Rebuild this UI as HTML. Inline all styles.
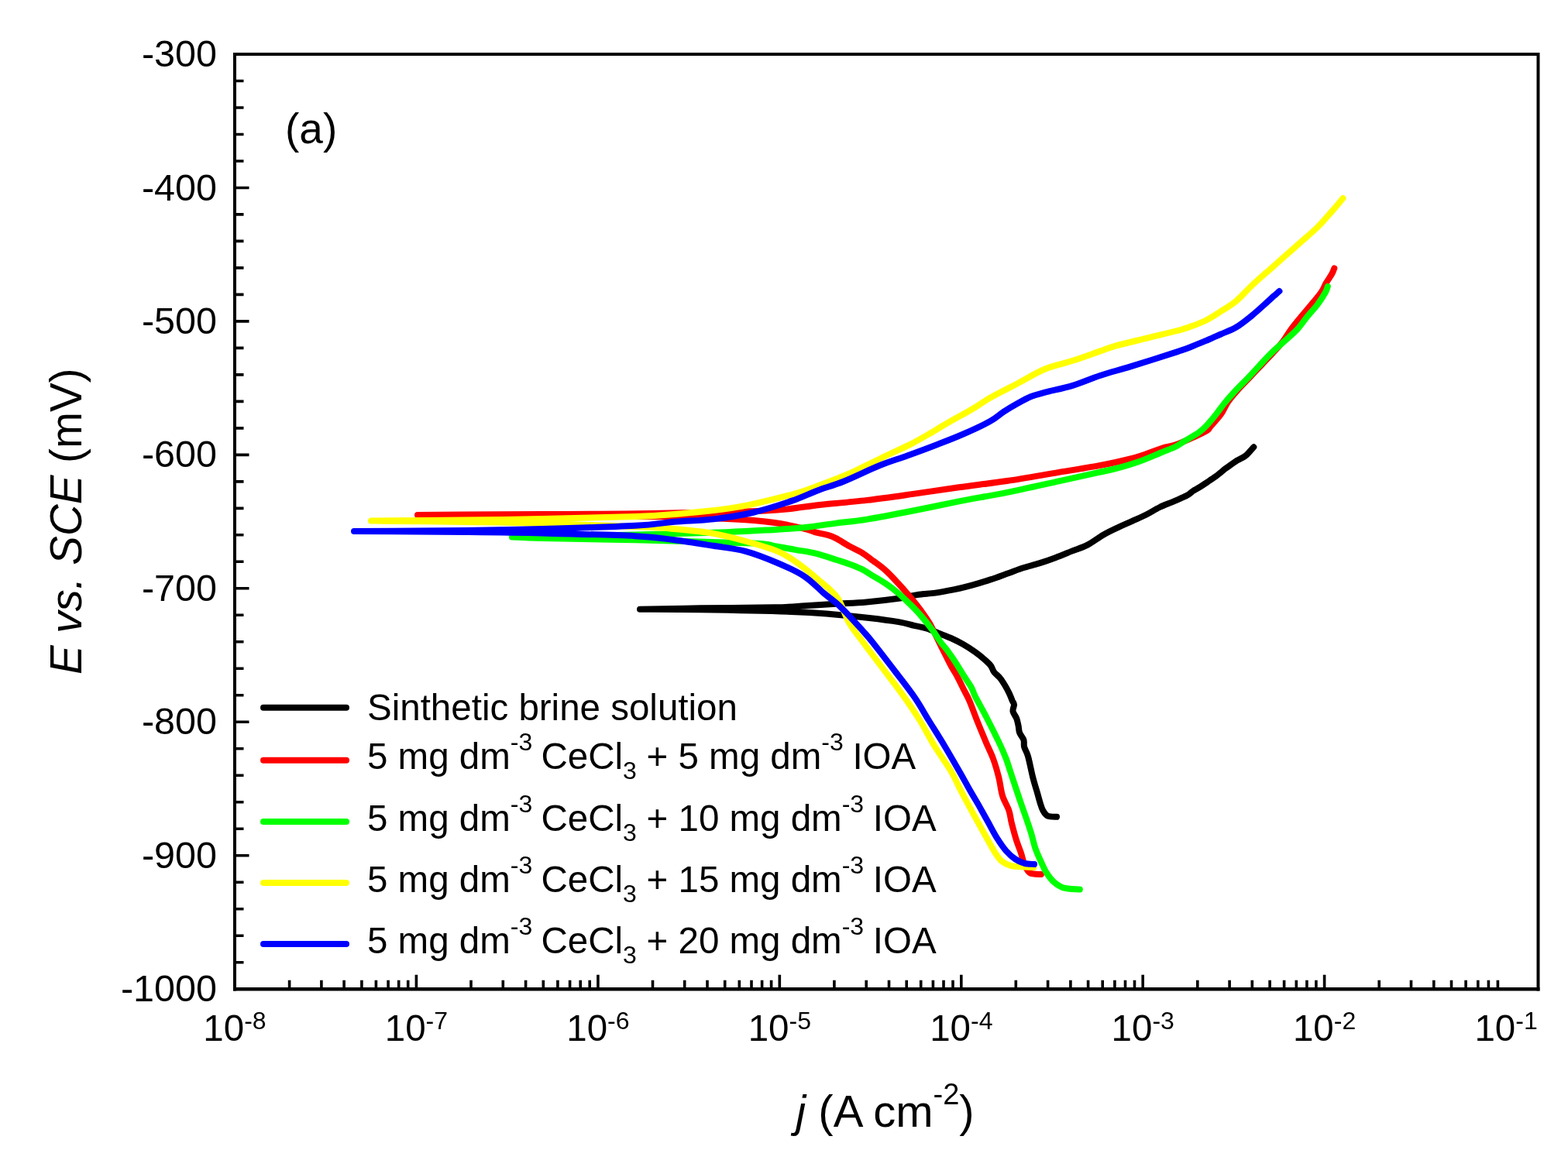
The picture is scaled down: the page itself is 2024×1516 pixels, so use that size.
<!DOCTYPE html><html><head><meta charset="utf-8"><style>html,body{margin:0;padding:0;background:#fff;overflow:hidden}svg{display:block}text{font-family:'Liberation Sans',Arial,sans-serif;fill:#000}</style></head><body>
<svg width="2024" height="1516" viewBox="0 0 2024 1516">
<rect width="2024" height="1516" fill="#fff"/>
<g fill="none" stroke-width="8" stroke-linejoin="round" stroke-linecap="round">
<path stroke="#000" d="M1364.0 1054.8C1362.0 1054.6 1355.2 1055.0 1352.2 1053.6C1349.2 1052.2 1347.8 1049.3 1346.2 1046.5C1344.6 1043.7 1343.9 1040.8 1342.7 1037.0C1341.5 1033.2 1340.6 1029.5 1339.0 1023.9C1337.4 1018.4 1335.2 1011.6 1333.2 1003.7C1331.2 995.8 1328.8 982.9 1326.9 976.4C1325.1 969.9 1323.0 968.1 1322.1 964.6C1321.2 961.1 1322.4 958.5 1321.4 955.4C1320.4 952.3 1317.2 949.3 1316.1 946.2C1314.9 943.1 1315.2 940.0 1314.5 936.9C1313.8 933.8 1313.4 930.8 1312.2 927.7C1311.0 924.6 1308.0 921.5 1307.5 918.5C1307.0 915.5 1309.1 912.3 1309.0 910.0C1308.9 907.7 1307.8 907.2 1306.7 904.8C1305.7 902.3 1304.3 898.6 1302.7 895.3C1301.1 892.0 1299.2 888.3 1297.2 885.0C1295.2 881.7 1293.2 878.4 1290.8 875.5C1288.4 872.6 1285.0 870.2 1283.0 867.6C1281.0 865.0 1281.0 862.3 1279.0 859.7C1277.0 857.1 1274.3 854.7 1271.0 851.8C1267.7 848.9 1263.8 845.6 1259.2 842.3C1254.6 839.0 1248.6 835.0 1243.3 832.0C1238.0 829.0 1232.8 826.4 1227.5 824.0C1222.2 821.6 1217.0 819.8 1211.7 817.7C1206.4 815.6 1201.1 813.0 1195.8 811.4C1190.5 809.8 1186.0 809.2 1180.0 807.8C1174.0 806.4 1169.7 804.7 1160.0 803.1C1150.3 801.5 1136.7 799.7 1122.0 798.0C1107.3 796.3 1088.8 794.4 1072.0 793.0C1055.2 791.6 1049.0 790.9 1021.0 789.9C993.0 788.9 936.5 787.8 904.0 787.3C871.5 786.8 839.0 786.9 826.0 786.8C839.0 786.5 875.0 785.7 904.0 785.3C933.0 784.9 977.4 784.8 1000.0 784.3C1022.6 783.8 1026.3 783.0 1039.5 782.2C1052.7 781.4 1065.8 780.5 1079.0 779.7C1092.2 778.9 1105.1 778.6 1118.6 777.4C1132.1 776.2 1149.2 774.2 1160.0 772.7C1170.8 771.2 1175.8 769.3 1183.7 768.1C1191.6 766.9 1199.5 766.7 1207.4 765.6C1215.3 764.5 1223.1 763.0 1231.0 761.4C1238.9 759.8 1247.0 757.9 1254.9 755.7C1262.8 753.5 1270.7 751.0 1278.6 748.4C1286.5 745.8 1295.3 742.4 1302.3 739.9C1309.3 737.4 1314.3 735.4 1320.8 733.3C1327.3 731.2 1334.6 729.6 1341.5 727.4C1348.4 725.2 1355.4 722.8 1362.3 720.2C1369.2 717.6 1376.1 714.7 1383.0 711.9C1389.9 709.1 1396.9 707.2 1403.8 703.6C1410.7 700.0 1417.8 694.2 1424.5 690.4C1431.2 686.6 1437.5 683.7 1443.7 680.8C1449.9 677.9 1455.6 675.6 1461.5 672.9C1467.4 670.2 1473.4 667.8 1479.3 664.8C1485.2 661.8 1491.1 657.9 1497.0 655.0C1502.9 652.1 1508.9 650.2 1514.8 647.6C1520.7 645.0 1528.4 641.9 1532.6 639.6C1536.8 637.3 1537.4 635.7 1540.0 634.0C1542.6 632.3 1545.3 631.2 1548.4 629.2C1551.5 627.2 1555.3 624.6 1558.8 622.3C1562.3 620.0 1566.3 617.4 1569.2 615.3C1572.1 613.2 1573.8 611.6 1576.1 609.8C1578.4 608.0 1579.5 606.8 1583.0 604.3C1586.5 601.8 1592.8 597.1 1596.8 594.6C1600.8 592.1 1604.3 591.1 1607.2 589.0C1610.1 586.9 1612.2 584.1 1614.1 582.1C1615.9 580.1 1617.6 578.1 1618.3 577.3"/>
<path stroke="#f00" d="M1343.9 1129.0C1341.5 1128.7 1333.2 1129.4 1329.6 1127.3C1326.0 1125.2 1324.5 1121.0 1322.5 1116.6C1320.5 1112.2 1319.6 1106.4 1317.8 1101.1C1316.0 1095.8 1313.8 1090.8 1311.8 1084.5C1309.8 1078.2 1307.5 1069.4 1305.9 1063.1C1304.3 1056.8 1304.3 1052.4 1302.3 1046.5C1300.3 1040.6 1296.2 1034.6 1294.0 1027.5C1291.8 1020.4 1291.2 1011.6 1289.2 1003.7C1287.2 995.8 1284.8 987.4 1282.1 980.0C1279.4 972.6 1276.7 967.8 1273.2 959.6C1269.8 951.4 1265.1 940.1 1261.4 931.0C1257.8 921.9 1254.3 911.8 1251.3 904.8C1248.3 897.8 1245.9 894.3 1243.3 889.0C1240.7 883.7 1238.0 878.0 1235.4 873.1C1232.8 868.2 1231.0 866.3 1227.5 859.7C1224.0 853.1 1218.9 842.6 1214.4 833.6C1209.9 824.6 1204.4 812.8 1200.3 805.5C1196.2 798.2 1193.2 794.6 1189.7 789.7C1186.2 784.8 1184.3 782.1 1179.2 776.0C1174.1 769.9 1165.2 759.5 1159.2 753.0C1153.2 746.5 1148.6 741.5 1143.3 736.7C1138.0 732.0 1132.8 728.4 1127.5 724.5C1122.2 720.6 1117.0 716.5 1111.7 713.2C1106.4 710.0 1101.2 708.0 1095.8 705.0C1090.4 702.0 1083.7 697.5 1079.2 695.1C1074.7 692.8 1073.0 692.2 1068.6 690.9C1064.2 689.6 1057.6 688.7 1052.8 687.4C1048.0 686.1 1048.4 685.1 1039.6 683.0C1030.8 680.9 1015.1 677.1 1000.0 675.0C984.9 672.9 975.7 671.7 949.0 670.4C922.3 669.1 881.5 667.7 840.0 667.0C798.5 666.3 740.0 666.2 700.0 666.0C660.0 665.8 626.8 665.7 600.0 665.5C573.2 665.3 549.2 665.1 539.0 665.0C549.2 664.9 573.2 664.7 600.0 664.5C626.8 664.3 660.0 664.2 700.0 664.0C740.0 663.8 792.0 663.8 840.0 663.0C888.0 662.2 954.9 660.9 988.0 659.5C1021.1 658.1 1026.4 655.8 1038.4 654.5C1050.4 653.2 1046.5 653.2 1060.0 651.8C1073.5 650.4 1099.5 648.2 1119.3 645.9C1139.1 643.6 1158.8 640.7 1178.6 637.9C1198.4 635.1 1217.7 632.1 1237.9 629.3C1258.1 626.5 1278.5 624.2 1300.0 621.0C1321.5 617.8 1347.4 613.1 1366.8 609.9C1386.2 606.7 1404.3 603.8 1416.5 601.6C1428.7 599.5 1431.2 599.0 1440.0 597.0C1448.8 595.0 1459.7 592.6 1469.6 589.6C1479.5 586.6 1491.4 581.5 1499.3 579.0C1507.2 576.5 1510.1 576.9 1517.0 574.5C1523.9 572.1 1533.9 567.6 1540.8 564.5C1547.7 561.4 1555.0 557.9 1558.6 555.6C1562.2 553.3 1559.6 554.2 1562.5 550.8C1565.4 547.4 1572.2 540.3 1576.0 535.0C1579.8 529.7 1581.3 524.5 1585.0 519.2C1588.7 513.9 1593.3 508.6 1598.0 503.3C1602.7 498.0 1608.0 492.8 1613.0 487.5C1618.0 482.2 1623.0 477.0 1628.0 471.7C1633.0 466.4 1638.3 460.9 1643.0 455.8C1647.7 450.7 1652.1 446.1 1656.0 441.0C1659.9 435.9 1662.7 430.3 1666.6 425.0C1670.5 419.7 1674.8 414.5 1679.2 409.2C1683.6 403.9 1688.3 398.6 1692.7 393.3C1697.1 388.0 1702.2 382.1 1705.4 377.5C1708.6 372.9 1709.4 369.6 1711.7 365.6C1714.0 361.7 1717.4 357.0 1719.2 353.8C1721.0 350.6 1721.8 347.7 1722.3 346.5"/>
<path stroke="#0f0" d="M1393.8 1148.6C1390.2 1148.2 1378.0 1147.9 1372.4 1146.3C1366.9 1144.7 1364.1 1142.3 1360.5 1139.1C1356.9 1135.9 1353.8 1131.6 1351.0 1127.3C1348.2 1123.0 1346.3 1118.2 1343.9 1113.0C1341.5 1107.8 1339.0 1102.7 1336.8 1096.4C1334.6 1090.1 1332.8 1081.5 1330.8 1075.0C1328.8 1068.5 1327.1 1063.5 1324.9 1057.2C1322.7 1050.9 1320.2 1043.9 1317.8 1037.0C1315.4 1030.1 1312.8 1022.1 1310.6 1015.6C1308.4 1009.1 1306.7 1003.7 1304.7 997.8C1302.7 991.9 1301.2 986.4 1298.8 980.0C1296.3 973.6 1294.3 968.6 1290.0 959.6C1285.7 950.6 1278.4 936.0 1273.2 926.0C1268.0 916.0 1262.1 905.8 1258.9 899.4C1255.7 893.0 1256.4 892.1 1253.8 887.5C1251.2 882.9 1246.8 877.0 1243.5 871.7C1240.2 866.4 1237.2 861.1 1233.8 855.8C1230.4 850.5 1226.2 844.5 1222.9 840.0C1219.6 835.5 1217.2 833.4 1214.0 829.0C1210.8 824.6 1208.1 819.6 1203.8 813.8C1199.5 808.0 1192.9 799.7 1187.9 794.0C1182.9 788.3 1178.7 784.2 1173.9 779.5C1169.1 774.8 1164.3 770.0 1159.2 765.7C1154.1 761.4 1148.6 757.2 1143.3 753.6C1138.0 750.0 1132.8 747.3 1127.5 744.1C1122.2 740.9 1117.0 737.2 1111.7 734.6C1106.4 732.0 1101.1 730.1 1095.8 728.2C1090.5 726.3 1087.2 725.3 1080.0 723.0C1072.8 720.7 1061.7 716.8 1052.8 714.6C1043.9 712.4 1035.2 711.5 1026.4 709.9C1017.6 708.3 1009.2 706.6 1000.0 705.2C990.8 703.8 1001.2 702.8 971.2 701.5C941.2 700.2 865.2 698.4 820.0 697.3C774.8 696.2 726.5 695.6 700.0 695.0C673.5 694.4 667.5 693.8 661.0 693.6C667.5 693.5 673.5 693.5 700.0 693.0C726.5 692.5 780.4 691.5 820.0 690.5C859.6 689.5 907.6 688.3 937.6 687.2C967.6 686.1 983.0 684.9 1000.0 683.9C1017.0 682.9 1026.4 682.4 1039.6 681.0C1052.8 679.6 1065.9 677.3 1079.2 675.6C1092.5 673.9 1102.7 673.3 1119.3 670.6C1135.9 667.9 1158.8 663.4 1178.6 659.5C1198.4 655.6 1217.7 651.4 1237.9 647.4C1258.1 643.4 1278.2 640.2 1300.0 635.8C1321.8 631.4 1349.6 625.0 1369.0 620.8C1388.4 616.5 1404.7 612.9 1416.5 610.3C1428.3 607.7 1431.2 607.5 1440.0 605.2C1448.8 602.9 1459.7 599.8 1469.6 596.3C1479.5 592.8 1491.4 587.4 1499.3 584.2C1507.2 581.0 1512.0 579.4 1517.0 577.0C1522.0 574.6 1524.0 572.6 1529.0 569.6C1534.0 566.6 1542.2 562.1 1546.7 559.0C1551.2 555.9 1552.5 554.8 1556.3 550.8C1560.1 546.8 1565.6 540.3 1569.8 535.0C1574.0 529.7 1577.3 524.5 1581.7 519.2C1586.1 513.9 1591.0 508.6 1595.9 503.3C1600.9 498.0 1606.4 492.8 1611.4 487.5C1616.4 482.2 1621.1 477.0 1626.0 471.7C1630.9 466.4 1635.7 461.0 1641.0 455.8C1646.3 450.6 1652.4 445.6 1658.0 440.5C1663.6 435.4 1670.0 430.2 1674.8 425.0C1679.6 419.8 1682.8 414.5 1687.1 409.2C1691.4 403.9 1696.6 398.6 1700.6 393.3C1704.6 388.0 1708.7 381.4 1710.9 377.5C1713.1 373.6 1713.3 371.2 1713.8 370.0"/>
<path stroke="#ff0" d="M1334.4 1120.1C1332.4 1120.0 1327.5 1119.9 1322.5 1119.5C1317.5 1119.1 1309.7 1119.1 1304.7 1117.8C1299.8 1116.5 1296.2 1114.6 1292.8 1111.8C1289.4 1109.0 1287.5 1105.6 1284.5 1101.1C1281.5 1096.5 1278.6 1090.8 1275.0 1084.5C1271.4 1078.2 1267.0 1070.2 1263.1 1063.1C1259.1 1056.0 1255.2 1049.0 1251.3 1041.7C1247.3 1034.4 1243.3 1026.8 1239.4 1019.2C1235.5 1011.6 1233.2 1005.4 1227.7 996.0C1222.2 986.6 1212.8 974.0 1206.1 963.0C1199.3 952.0 1194.2 941.2 1187.2 930.0C1180.2 918.8 1172.1 907.0 1164.0 895.7C1155.9 884.4 1147.2 873.4 1138.8 862.2C1130.4 851.0 1120.7 838.3 1113.6 828.6C1106.5 818.9 1101.5 813.6 1096.0 804.0C1090.5 794.4 1087.2 780.6 1080.4 771.2C1073.6 761.8 1063.6 755.0 1055.2 747.7C1046.8 740.4 1038.4 733.4 1030.0 727.5C1021.6 721.6 1016.0 717.1 1004.8 712.4C993.6 707.6 976.8 702.9 962.8 699.0C948.8 695.1 936.2 691.6 920.8 688.9C905.4 686.2 883.6 684.3 870.4 683.0C857.2 681.7 870.2 682.2 841.8 681.0C813.4 679.8 740.3 677.2 700.0 676.0C659.7 674.8 636.8 674.6 600.0 674.0C563.2 673.4 499.2 672.8 479.0 672.6C499.2 672.4 563.2 671.9 600.0 671.5C636.8 671.1 663.3 670.8 700.0 670.0C736.7 669.2 790.0 668.1 820.0 667.0C850.0 665.9 858.1 665.2 880.0 663.2C901.9 661.2 927.5 659.0 951.2 654.9C974.9 650.8 1004.5 643.2 1022.3 638.5C1040.1 633.8 1046.1 630.9 1057.9 626.6C1069.8 622.3 1083.1 617.2 1093.4 612.8C1103.8 608.4 1113.0 603.4 1120.0 600.0C1127.0 596.6 1130.6 594.9 1135.6 592.5C1140.6 590.1 1143.4 588.6 1150.0 585.5C1156.6 582.4 1166.7 578.1 1175.0 573.9C1183.3 569.6 1192.5 564.3 1200.0 560.0C1207.5 555.7 1210.8 553.3 1220.0 548.0C1229.2 542.7 1245.3 534.0 1255.0 528.3C1264.7 522.6 1268.2 519.3 1277.9 513.8C1287.6 508.3 1301.6 501.4 1313.4 495.2C1325.2 489.0 1337.1 481.4 1349.0 476.5C1360.9 471.6 1372.7 469.7 1384.6 465.8C1396.5 461.9 1411.0 456.6 1420.2 453.4C1429.4 450.2 1430.3 449.4 1440.0 446.7C1449.7 444.0 1465.0 440.4 1478.3 437.1C1491.6 433.8 1510.4 429.5 1520.0 427.0C1529.6 424.5 1530.0 424.2 1536.0 422.0C1542.0 419.8 1549.3 417.3 1556.0 414.0C1562.7 410.7 1569.4 406.2 1576.0 402.0C1582.6 397.8 1589.1 394.2 1595.8 388.6C1602.5 383.0 1608.0 376.1 1616.0 368.6C1624.0 361.1 1634.6 352.1 1644.0 343.7C1653.4 335.3 1663.2 326.7 1672.5 318.4C1681.8 310.1 1692.1 301.7 1700.0 294.0C1707.9 286.3 1714.4 278.3 1720.0 272.0C1725.6 265.7 1731.2 258.7 1733.5 256.0"/>
<path stroke="#00f" d="M1335.0 1116.0C1332.9 1115.8 1326.6 1115.9 1322.5 1114.8C1318.4 1113.7 1314.5 1112.1 1310.6 1109.4C1306.6 1106.7 1302.8 1103.3 1298.8 1098.8C1294.8 1094.2 1290.9 1088.4 1286.9 1082.1C1282.9 1075.8 1279.0 1067.9 1275.0 1060.8C1271.0 1053.7 1267.0 1046.3 1263.1 1039.4C1259.1 1032.5 1255.4 1026.4 1251.3 1019.2C1247.2 1012.0 1243.7 1005.4 1238.3 996.0C1232.9 986.6 1225.7 974.0 1219.1 963.0C1212.5 952.0 1205.1 940.4 1198.7 930.0C1192.3 919.6 1188.0 911.3 1180.8 900.8C1173.6 890.3 1164.6 879.0 1155.6 867.2C1146.6 855.4 1133.9 838.9 1127.0 830.2C1120.1 821.5 1119.0 820.5 1114.0 814.9C1109.0 809.3 1102.8 802.3 1097.2 796.4C1091.6 790.5 1086.0 784.6 1080.4 779.6C1074.8 774.6 1070.6 772.0 1063.6 766.1C1056.6 760.2 1048.2 750.7 1038.4 744.3C1028.6 737.9 1017.5 732.9 1004.8 727.5C992.1 722.1 976.3 715.7 962.3 711.9C948.3 708.1 936.1 707.2 920.8 704.8C905.5 702.4 887.2 699.4 870.4 697.3C853.6 695.2 848.4 693.7 820.0 692.2C791.6 690.7 736.7 689.4 700.0 688.5C663.3 687.6 640.5 687.4 600.0 687.0C559.5 686.6 480.8 686.2 457.0 686.0C480.8 685.8 559.5 685.5 600.0 685.0C640.5 684.5 663.3 684.0 700.0 683.0C736.7 682.0 791.6 680.3 820.0 678.8C848.4 677.3 853.6 675.2 870.4 673.8C887.2 672.4 904.0 672.4 920.8 670.4C937.6 668.4 954.4 665.9 971.2 662.0C988.0 658.1 1007.6 651.7 1021.6 646.9C1035.6 642.1 1044.0 637.6 1055.2 633.4C1066.4 629.2 1075.4 627.1 1088.8 621.7C1102.2 616.3 1121.9 606.5 1135.6 601.0C1149.3 595.5 1159.2 592.8 1171.0 588.5C1182.8 584.2 1194.8 579.8 1206.7 575.2C1218.6 570.6 1230.4 566.2 1242.3 561.0C1254.2 555.8 1269.1 548.9 1278.0 544.0C1286.9 539.1 1289.8 535.4 1295.7 531.6C1301.6 527.8 1307.5 524.3 1313.4 521.0C1319.3 517.7 1325.1 514.4 1331.0 512.0C1336.9 509.6 1340.1 509.1 1349.0 506.7C1357.9 504.3 1372.8 501.4 1384.6 497.8C1396.4 494.2 1407.4 489.1 1420.0 485.0C1432.6 480.9 1443.3 478.2 1460.0 473.1C1476.7 468.0 1506.5 458.5 1520.0 454.1C1533.5 449.7 1534.3 449.0 1540.8 446.5C1547.3 444.0 1553.1 441.5 1559.0 439.0C1564.9 436.5 1569.9 434.2 1576.0 431.5C1582.1 428.8 1589.2 426.4 1595.8 422.5C1602.4 418.6 1608.9 413.2 1615.6 407.8C1622.3 402.4 1631.2 394.1 1636.0 389.8C1640.8 385.5 1641.9 384.4 1644.5 382.1C1647.1 379.8 1650.2 377.0 1651.4 376.0"/>
</g>
<path d="M303.0 104.5h11.5 M303.0 139.0h11.5 M303.0 173.5h11.5 M303.0 208.0h11.5 M303.0 242.5h18.5 M303.0 276.9h11.5 M303.0 311.4h11.5 M303.0 345.9h11.5 M303.0 380.4h11.5 M303.0 414.9h18.5 M303.0 449.4h11.5 M303.0 483.9h11.5 M303.0 518.4h11.5 M303.0 552.9h11.5 M303.0 587.4h18.5 M303.0 621.9h11.5 M303.0 656.4h11.5 M303.0 690.8h11.5 M303.0 725.3h11.5 M303.0 759.8h18.5 M303.0 794.3h11.5 M303.0 828.8h11.5 M303.0 863.3h11.5 M303.0 897.8h11.5 M303.0 932.3h18.5 M303.0 966.8h11.5 M303.0 1001.3h11.5 M303.0 1035.8h11.5 M303.0 1070.3h11.5 M303.0 1104.7h18.5 M303.0 1139.2h11.5 M303.0 1173.7h11.5 M303.0 1208.2h11.5 M303.0 1242.7h11.5 M373.6 1277.2v-11.5 M414.9 1277.2v-11.5 M444.1 1277.2v-11.5 M466.9 1277.2v-11.5 M485.4 1277.2v-11.5 M501.1 1277.2v-11.5 M514.7 1277.2v-11.5 M526.7 1277.2v-11.5 M537.4 1277.2v-18.5 M608.0 1277.2v-11.5 M649.3 1277.2v-11.5 M678.6 1277.2v-11.5 M701.3 1277.2v-11.5 M719.9 1277.2v-11.5 M735.6 1277.2v-11.5 M749.2 1277.2v-11.5 M761.2 1277.2v-11.5 M771.9 1277.2v-18.5 M842.5 1277.2v-11.5 M883.7 1277.2v-11.5 M913.0 1277.2v-11.5 M935.7 1277.2v-11.5 M954.3 1277.2v-11.5 M970.0 1277.2v-11.5 M983.6 1277.2v-11.5 M995.6 1277.2v-11.5 M1006.3 1277.2v-18.5 M1076.9 1277.2v-11.5 M1118.2 1277.2v-11.5 M1147.5 1277.2v-11.5 M1170.2 1277.2v-11.5 M1188.7 1277.2v-11.5 M1204.4 1277.2v-11.5 M1218.0 1277.2v-11.5 M1230.0 1277.2v-11.5 M1240.8 1277.2v-18.5 M1311.3 1277.2v-11.5 M1352.6 1277.2v-11.5 M1381.9 1277.2v-11.5 M1404.6 1277.2v-11.5 M1423.2 1277.2v-11.5 M1438.9 1277.2v-11.5 M1452.5 1277.2v-11.5 M1464.5 1277.2v-11.5 M1475.2 1277.2v-18.5 M1545.8 1277.2v-11.5 M1587.1 1277.2v-11.5 M1616.3 1277.2v-11.5 M1639.1 1277.2v-11.5 M1657.6 1277.2v-11.5 M1673.3 1277.2v-11.5 M1686.9 1277.2v-11.5 M1698.9 1277.2v-11.5 M1709.6 1277.2v-18.5 M1780.2 1277.2v-11.5 M1821.5 1277.2v-11.5 M1850.8 1277.2v-11.5 M1873.5 1277.2v-11.5 M1892.1 1277.2v-11.5 M1907.8 1277.2v-11.5 M1921.4 1277.2v-11.5 M1933.4 1277.2v-11.5" stroke="#000" stroke-width="3.6" fill="none"/>
<path d="M301.0 70.0H1987.5M303.0 68.0V1279.5M1985.5 68.0V1279.5" stroke="#000" stroke-width="4" fill="none"/>
<path d="M301.0 1277.3H1987.5" stroke="#000" stroke-width="4.6" fill="none"/>
<text x="280" y="86.0" font-size="48.5" text-anchor="end">-300</text>
<text x="280" y="258.5" font-size="48.5" text-anchor="end">-400</text>
<text x="280" y="430.9" font-size="48.5" text-anchor="end">-500</text>
<text x="280" y="603.4" font-size="48.5" text-anchor="end">-600</text>
<text x="280" y="775.8" font-size="48.5" text-anchor="end">-700</text>
<text x="280" y="948.3" font-size="48.5" text-anchor="end">-800</text>
<text x="280" y="1120.7" font-size="48.5" text-anchor="end">-900</text>
<text x="280" y="1293.2" font-size="48.5" text-anchor="end">-1000</text>
<text x="303.0" y="1344" font-size="47.5" text-anchor="middle">10<tspan font-size="32" dy="-15">-8</tspan></text>
<text x="537.4" y="1344" font-size="47.5" text-anchor="middle">10<tspan font-size="32" dy="-15">-7</tspan></text>
<text x="771.9" y="1344" font-size="47.5" text-anchor="middle">10<tspan font-size="32" dy="-15">-6</tspan></text>
<text x="1006.3" y="1344" font-size="47.5" text-anchor="middle">10<tspan font-size="32" dy="-15">-5</tspan></text>
<text x="1240.8" y="1344" font-size="47.5" text-anchor="middle">10<tspan font-size="32" dy="-15">-4</tspan></text>
<text x="1475.2" y="1344" font-size="47.5" text-anchor="middle">10<tspan font-size="32" dy="-15">-3</tspan></text>
<text x="1709.6" y="1344" font-size="47.5" text-anchor="middle">10<tspan font-size="32" dy="-15">-2</tspan></text>
<text x="1944.1" y="1344" font-size="47.5" text-anchor="middle">10<tspan font-size="32" dy="-15">-1</tspan></text>
<text x="368" y="185.3" font-size="55">(a)</text>
<text transform="translate(105,673.3) rotate(-90)" font-size="56.5" text-anchor="middle"><tspan font-style="italic">E vs. SCE</tspan> (mV)</text>
<text x="1142.5" y="1455" font-size="58" text-anchor="middle"><tspan font-style="italic">j</tspan> (A cm<tspan font-size="38" dy="-29">-2</tspan><tspan dy="29">)</tspan></text>
<line x1="340" y1="913.8" x2="447" y2="913.8" stroke="#000" stroke-width="8" stroke-linecap="round"/>
<text x="474" y="930.3" font-size="47.5">Sinthetic brine solution</text>
<line x1="340" y1="981.8" x2="447" y2="981.8" stroke="#f00" stroke-width="8" stroke-linecap="round"/>
<text x="474" y="993.3" font-size="47.5">5 mg dm<tspan font-size="32" dy="-24">-3</tspan><tspan dy="24" dx="-2"> CeCl</tspan><tspan font-size="32" dy="13">3</tspan><tspan dy="-13" dx="-0.5"> + 5 mg dm</tspan><tspan font-size="32" dy="-24">-3</tspan><tspan dy="24" dx="-1.5"> IOA</tspan></text>
<line x1="340" y1="1061" x2="447" y2="1061" stroke="#0f0" stroke-width="8" stroke-linecap="round"/>
<text x="474" y="1072.5" font-size="47.5">5 mg dm<tspan font-size="32" dy="-24">-3</tspan><tspan dy="24" dx="-2"> CeCl</tspan><tspan font-size="32" dy="13">3</tspan><tspan dy="-13" dx="-0.5"> + 10 mg dm</tspan><tspan font-size="32" dy="-24">-3</tspan><tspan dy="24" dx="-1.5"> IOA</tspan></text>
<line x1="340" y1="1140" x2="447" y2="1140" stroke="#ff0" stroke-width="8" stroke-linecap="round"/>
<text x="474" y="1151.5" font-size="47.5">5 mg dm<tspan font-size="32" dy="-24">-3</tspan><tspan dy="24" dx="-2"> CeCl</tspan><tspan font-size="32" dy="13">3</tspan><tspan dy="-13" dx="-0.5"> + 15 mg dm</tspan><tspan font-size="32" dy="-24">-3</tspan><tspan dy="24" dx="-1.5"> IOA</tspan></text>
<line x1="340" y1="1219" x2="447" y2="1219" stroke="#00f" stroke-width="8" stroke-linecap="round"/>
<text x="474" y="1230.5" font-size="47.5">5 mg dm<tspan font-size="32" dy="-24">-3</tspan><tspan dy="24" dx="-2"> CeCl</tspan><tspan font-size="32" dy="13">3</tspan><tspan dy="-13" dx="-0.5"> + 20 mg dm</tspan><tspan font-size="32" dy="-24">-3</tspan><tspan dy="24" dx="-1.5"> IOA</tspan></text>
</svg></body></html>
